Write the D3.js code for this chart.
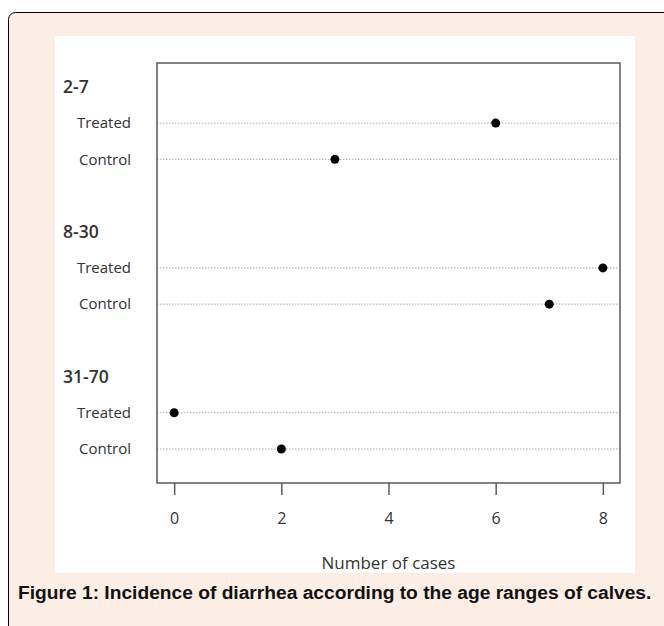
<!DOCTYPE html>
<html>
<head>
<meta charset="utf-8">
<script src="https://cdn.jsdelivr.net/npm/d3@7"></script>
<style>
  body { margin: 0; background: #ffffff; }
</style>
</head>
<body>
<div id="chart"></div>
<script>
// data
const groups = ["2-7", "8-30", "31-70"];
const treatments = ["Treated", "Control"];
const treatedCases = [6, 8, 0];
const controlCases = [3, 7, 2];
const xTicks = [0, 2, 4, 6, 8];

const W = 664, H = 626;

const svg = d3.select("#chart")
  .append("svg")
  .attr("width", W)
  .attr("height", H);

// card behind the figure
svg.append("rect")
  .attr("x", 8.5)
  .attr("y", 12.5)
  .attr("width", 680)
  .attr("height", 640)
  .attr("rx", 7)
  .attr("fill", "#fcede5")
  .attr("stroke", "#000")
  .attr("stroke-width", 1);

// white image area
svg.append("rect")
  .attr("x", 55)
  .attr("y", 36)
  .attr("width", 580)
  .attr("height", 537)
  .attr("fill", "#fff");

// R dotchart style positions: rows from bottom, 2-unit gap between groups
const rows = [];
groups.forEach((g, gi) => {
  const base = (groups.length - 1 - gi) * 4; // 8, 4, 0
  rows.push({ type: "header", label: g, pos: base + 3 });
  rows.push({ type: "item", label: treatments[0], value: treatedCases[gi], pos: base + 2 });
  rows.push({ type: "item", label: treatments[1], value: controlCases[gi], pos: base + 1 });
});

const box = { left: 157, right: 620, top: 63, bottom: 483 };

const x = d3.scaleLinear()
  .domain([-0.32, 8.32])
  .range([box.left, box.right]);

const y = d3.scaleLinear()
  .domain([0.06, 11.66])
  .range([box.bottom, box.top]);

const items = rows.filter(d => d.type === "item");
const headers = rows.filter(d => d.type === "header");

// dotted guide lines
svg.selectAll("line.guide")
  .data(items)
  .join("line")
  .attr("class", "guide")
  .attr("x1", box.left)
  .attr("x2", box.right)
  .attr("y1", d => y(d.pos))
  .attr("y2", d => y(d.pos))
  .attr("stroke", "#a8a8a8")
  .attr("stroke-width", 1)
  .attr("stroke-dasharray", "1.5,1.5");

// plot box
svg.append("rect")
  .attr("x", box.left)
  .attr("y", box.top)
  .attr("width", box.right - box.left)
  .attr("height", box.bottom - box.top)
  .attr("fill", "none")
  .attr("stroke", "#5a5a5a")
  .attr("stroke-width", 1.5);

// dots
svg.selectAll("circle.dot")
  .data(items)
  .join("circle")
  .attr("class", "dot")
  .attr("cx", d => x(d.value))
  .attr("cy", d => y(d.pos))
  .attr("r", 4.5)
  .attr("fill", "#000");

// item labels
svg.selectAll("text.item")
  .data(items)
  .join("text")
  .attr("class", "item")
  .attr("x", 131)
  .attr("y", d => y(d.pos))
  .attr("dy", "0.35em")
  .attr("text-anchor", "end")
  .style("font-family", "'Open Sans', sans-serif")
  .style("font-size", "15px")
  .style("fill", "#333")
  .text(d => d.label);

// group headers
svg.selectAll("text.header")
  .data(headers)
  .join("text")
  .attr("class", "header")
  .attr("x", 63)
  .attr("y", d => y(d.pos))
  .attr("dy", "0.35em")
  .style("font-family", "'Open Sans', sans-serif")
  .style("font-size", "17.5px")
  .style("font-weight", "600")
  .style("fill", "#333")
  .text(d => d.label);

// x axis
const xAxis = svg.append("g")
  .attr("transform", `translate(0, ${box.bottom})`)
  .call(d3.axisBottom(x).tickValues(xTicks).tickSize(12).tickPadding(17).tickFormat(d3.format("d")));

xAxis.select(".domain").remove();
xAxis.selectAll(".tick line")
  .attr("stroke", "#5a5a5a")
  .attr("stroke-width", 1.5);
xAxis.selectAll(".tick text")
  .attr("dy", "0.35em")
  .attr("y", 35)
  .style("font-family", "'Open Sans', sans-serif")
  .style("font-size", "16px")
  .style("fill", "#333");

svg.append("text")
  .attr("x", (box.left + box.right) / 2)
  .attr("y", 563)
  .attr("dy", "0.35em")
  .attr("text-anchor", "middle")
  .style("font-family", "'Open Sans', sans-serif")
  .style("font-size", "17px")
  .style("fill", "#333")
  .text("Number of cases");

// caption
svg.append("text")
  .attr("x", 18)
  .attr("y", 592)
  .attr("dy", "0.35em")
  .style("font-family", "'Liberation Sans', Arial, sans-serif")
  .style("font-size", "19.2px")
  .style("font-weight", "bold")
  .style("fill", "#111")
  .text("Figure 1: Incidence of diarrhea according to the age ranges of calves.");
</script>
</body>
</html>
